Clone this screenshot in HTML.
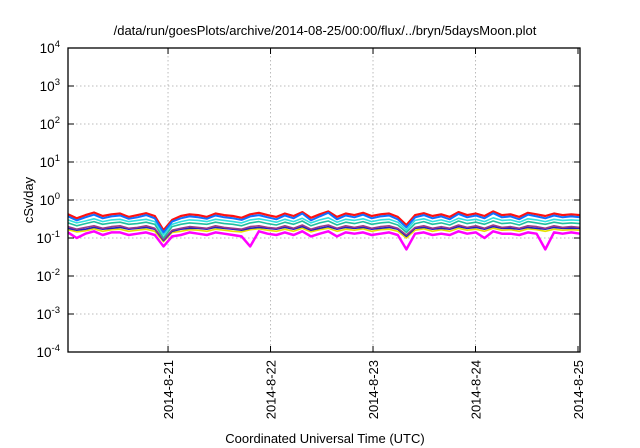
<!DOCTYPE html>
<html><head><meta charset="utf-8"><style>
body{margin:0;background:#fff}
svg{display:block;font-family:"Liberation Sans",sans-serif}
</style></head><body>
<svg id="chart" width="640" height="448">
<text x="325" y="35" font-size="13" text-anchor="middle">/data/run/goesPlots/archive/2014-08-25/00:00/flux/../bryn/5daysMoon.plot</text>
<text x="325" y="443" font-size="13" text-anchor="middle">Coordinated Universal Time (UTC)</text>
<text transform="translate(33,200) rotate(-90)" font-size="13" text-anchor="middle">cSv/day</text>
<g id="grid"></g><g id="series"></g><g id="axes"></g>
</svg>
<script>
const xTickLabels=["2014-8-21","2014-8-22","2014-8-23","2014-8-24","2014-8-25"];
const xTickDays=[1,2,3,4,5];
const yTickExps=[-4,-3,-2,-1,0,1,2,3,4];
const tStart=0.024, tEnd=5.0195;
const red=[0.42,0.33,0.40,0.47,0.38,0.42,0.44,0.36,0.40,0.45,0.38,0.16,0.30,0.38,0.42,0.40,0.36,0.44,0.40,0.38,0.34,0.42,0.46,0.40,0.36,0.44,0.38,0.48,0.34,0.42,0.50,0.36,0.44,0.40,0.46,0.38,0.42,0.44,0.36,0.22,0.40,0.45,0.38,0.42,0.36,0.48,0.40,0.44,0.38,0.50,0.40,0.42,0.36,0.46,0.42,0.38,0.44,0.40,0.42,0.40];
const blue=[0.37,0.29,0.35,0.41,0.33,0.37,0.39,0.32,0.35,0.40,0.33,0.14,0.27,0.33,0.37,0.35,0.32,0.39,0.35,0.33,0.30,0.37,0.40,0.35,0.31,0.39,0.33,0.44,0.29,0.37,0.46,0.31,0.39,0.35,0.41,0.33,0.37,0.39,0.31,0.19,0.35,0.40,0.33,0.37,0.31,0.43,0.35,0.39,0.33,0.45,0.35,0.37,0.31,0.41,0.37,0.33,0.39,0.35,0.37,0.35];
const cyan=[0.30,0.25,0.28,0.32,0.27,0.30,0.31,0.27,0.29,0.31,0.27,0.12,0.23,0.27,0.30,0.29,0.27,0.31,0.29,0.27,0.25,0.30,0.32,0.29,0.26,0.31,0.27,0.33,0.25,0.30,0.34,0.26,0.31,0.29,0.32,0.27,0.30,0.31,0.26,0.16,0.29,0.32,0.27,0.30,0.26,0.33,0.29,0.31,0.27,0.34,0.29,0.30,0.26,0.32,0.30,0.27,0.31,0.29,0.30,0.29];
const teal=[0.25,0.21,0.24,0.27,0.23,0.25,0.26,0.23,0.24,0.26,0.23,0.10,0.20,0.23,0.25,0.24,0.23,0.26,0.24,0.23,0.21,0.25,0.27,0.24,0.22,0.26,0.23,0.28,0.21,0.25,0.28,0.22,0.26,0.24,0.27,0.23,0.25,0.26,0.22,0.14,0.24,0.27,0.23,0.25,0.22,0.28,0.24,0.26,0.23,0.28,0.24,0.25,0.22,0.27,0.25,0.23,0.26,0.24,0.25,0.24];
const purple=[0.20,0.17,0.19,0.21,0.18,0.20,0.21,0.18,0.19,0.21,0.18,0.09,0.16,0.18,0.20,0.19,0.18,0.21,0.19,0.18,0.17,0.20,0.21,0.19,0.18,0.21,0.18,0.22,0.17,0.20,0.22,0.18,0.21,0.19,0.21,0.18,0.20,0.21,0.18,0.12,0.19,0.21,0.18,0.20,0.18,0.22,0.19,0.21,0.18,0.22,0.19,0.20,0.18,0.21,0.20,0.18,0.21,0.19,0.20,0.19];
const navy=[0.18,0.16,0.17,0.19,0.17,0.18,0.19,0.17,0.18,0.19,0.17,0.085,0.15,0.17,0.18,0.18,0.17,0.19,0.18,0.17,0.16,0.18,0.19,0.18,0.17,0.19,0.17,0.20,0.16,0.18,0.20,0.17,0.19,0.18,0.19,0.17,0.18,0.19,0.17,0.11,0.18,0.19,0.17,0.18,0.17,0.20,0.18,0.19,0.17,0.20,0.18,0.18,0.17,0.19,0.18,0.17,0.19,0.18,0.18,0.18];
const yellow=[0.165,0.145,0.155,0.175,0.15,0.165,0.17,0.15,0.16,0.17,0.15,0.08,0.14,0.15,0.165,0.16,0.15,0.17,0.16,0.15,0.145,0.165,0.175,0.16,0.15,0.17,0.15,0.18,0.145,0.165,0.18,0.15,0.17,0.16,0.175,0.15,0.165,0.17,0.15,0.10,0.16,0.175,0.15,0.165,0.15,0.18,0.16,0.17,0.15,0.18,0.16,0.165,0.15,0.175,0.165,0.15,0.17,0.16,0.165,0.16];
const magenta=[0.14,0.10,0.13,0.15,0.12,0.14,0.14,0.12,0.13,0.14,0.12,0.06,0.11,0.12,0.14,0.13,0.12,0.14,0.13,0.12,0.11,0.06,0.15,0.13,0.12,0.14,0.12,0.15,0.11,0.13,0.15,0.11,0.14,0.13,0.14,0.12,0.13,0.14,0.12,0.05,0.13,0.14,0.12,0.13,0.12,0.15,0.13,0.14,0.10,0.15,0.13,0.13,0.12,0.14,0.13,0.05,0.14,0.13,0.14,0.13];
const seriesList=[["magenta",magenta,"#ff00ff",2.5],["yellow",yellow,"#e8e000",1.6],["navy",navy,"#2020c0",1.6],["purple",purple,"#9a3a8a",1.6],["teal",teal,"#20c0a0",1.6],["cyan",cyan,"#30e0e0",1.6],["red",red,"#ff1010",2.2],["blue",blue,"#1070ff",2]];
const L=68,R=580,T=48,B=352,NS="http://www.w3.org/2000/svg";
const xs=d=>L+(d-tStart)/(tEnd-tStart)*(R-L);
const ys=v=>T+(4-Math.log10(v))/8*(B-T);
function mk(tag,attrs,parent){const e=document.createElementNS(NS,tag);for(const k in attrs)e.setAttribute(k,attrs[k]);parent.appendChild(e);return e;}
const grid=document.getElementById('grid'),axes=document.getElementById('axes'),sg=document.getElementById('series');
yTickExps.forEach(p=>{const y=ys(Math.pow(10,p));
 if(p>-4&&p<4){const g=mk('line',{x1:L,x2:R,y1:y,y2:y,stroke:'#bbb','stroke-dasharray':'1.5,2.5','stroke-width':1},grid);}
 const t1=mk('line',{x1:L,x2:L+6,y1:y,y2:y,stroke:'#000'},axes);
 const t2=mk('line',{x1:R-6,x2:R,y1:y,y2:y,stroke:'#000'},axes);
 const tx=mk('text',{x:L-8,y:y+5,'font-size':13.5,'text-anchor':'end'},axes);
 tx.textContent='10';const s=mk('tspan',{dy:-6,'font-size':9.5},tx);s.textContent=String(p);
});
xTickDays.forEach((d,i)=>{const x=xs(d);
 if(x<R-3){const g=mk('line',{x1:x,x2:x,y1:T,y2:B,stroke:'#bbb','stroke-dasharray':'1.5,2.5'},grid);}
 const t1=mk('line',{x1:x,x2:x,y1:B,y2:B-6,stroke:'#000'},axes);
 const t2=mk('line',{x1:x,x2:x,y1:T,y2:T+6,stroke:'#000'},axes);
 const tx=mk('text',{transform:`translate(${x+5},${B+8}) rotate(-90)`,'font-size':13,'text-anchor':'end'},axes);tx.textContent=xTickLabels[i];
});
const fr=mk('rect',{x:L,y:T,width:R-L,height:B-T,fill:'none',stroke:'#000','stroke-width':1.3},axes);

seriesList.forEach(([name,vals,col,w])=>{const n=vals.length;
 const pts=vals.map((v,i)=>xs(tStart+i*(tEnd-tStart)/(n-1)).toFixed(1)+','+ys(v).toFixed(1)).join(' ');
 const pl=mk('polyline',{points:pts,fill:'none',stroke:col,'stroke-width':w,'stroke-linejoin':'round'},sg);
 
});
</script>
</body></html>
